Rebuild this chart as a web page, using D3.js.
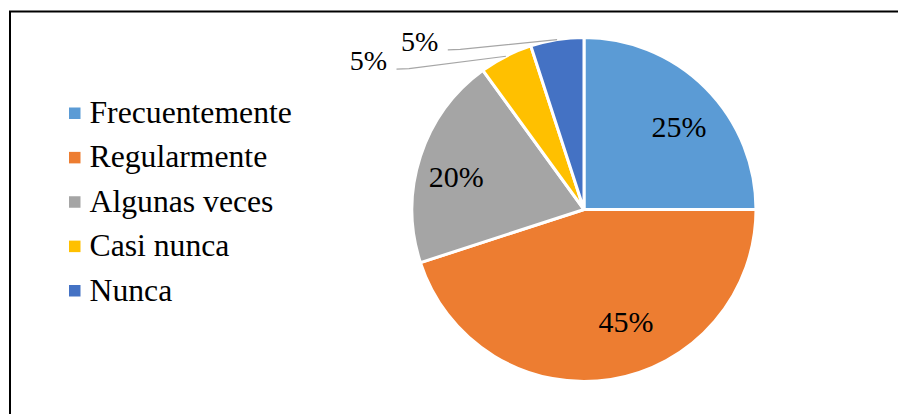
<!DOCTYPE html>
<html>
<head>
<meta charset="utf-8">
<script src="https://cdn.jsdelivr.net/npm/d3@7"></script>
<style>
  html, body { margin: 0; padding: 0; background: #fff; }
  svg { display: block; }
</style>
</head>
<body>
<svg id="chart" width="898" height="414"></svg>
<script>
// Survey answers and their shares (percent)
const categories = ["Frecuentemente", "Regularmente", "Algunas veces", "Casi nunca", "Nunca"];
const shares = [25, 45, 20, 5, 5];
const sliceColors = ["#5B9BD5", "#ED7D31", "#A5A5A5", "#FFC000", "#4472C4"];

const svg = d3.select("#chart");
const serif = '"Liberation Serif"';

// Chart frame (continues past the right and bottom edges)
svg.append("rect")
  .attr("x", 10).attr("y", 11.5)
  .attr("width", 1000).attr("height", 1000)
  .attr("fill", "none").attr("stroke", "#000").attr("stroke-width", 2);

// Pie
const cx = 584, cy = 209.5, R = 172;
const pie = d3.pie().value(d => d.value).sort(null);
const data = categories.map((c, i) => ({ name: c, value: shares[i], color: sliceColors[i] }));
const arcs = pie(data);
const arc = d3.arc().innerRadius(0).outerRadius(R);

const g = svg.append("g").attr("transform", `translate(${cx},${cy})`);
g.selectAll("path.slice")
  .data(arcs)
  .join("path")
  .attr("class", "slice")
  .attr("d", arc)
  .attr("fill", d => d.data.color)
  .attr("stroke", "#fff")
  .attr("stroke-width", 3)
  .attr("stroke-linejoin", "round");

const fmt = v => v + "%";

// Inside labels for the large slices (baseline offsets from the label-arc centroid)
const labelArc = d3.arc().innerRadius(R * 0.74).outerRadius(R * 0.74);
const insideNudge = { "Frecuentemente": [5, 17], "Regularmente": [22, -3.3], "Algunas veces": [-6.6, 16.5] };
arcs.filter(d => d.data.value >= 10).forEach(d => {
  const [x, y] = labelArc.centroid(d);
  const [nx, ny] = insideNudge[d.data.name];
  g.append("text")
    .attr("x", x + nx).attr("y", y + ny)
    .attr("text-anchor", "middle")
    .style("font-family", serif)
    .style("font-size", "30px")
    .attr("fill", "#000")
    .text(fmt(d.data.value));
});

// Outside labels with leader lines for the small slices
const edgeArc = d3.arc().innerRadius(R).outerRadius(R);
const outsideLabel = { "Casi nunca": [-197, -139.5], "Nunca": [-145.7, -158.8] };
arcs.filter(d => d.data.value < 10).forEach(d => {
  const [ex, ey] = edgeArc.centroid(d);
  const [lx, ly] = outsideLabel[d.data.name];
  const lineY = ly - 0.8;
  const pts = [[ex, ey], [lx + 22, lineY - 0.6], [lx + 9.5, lineY]];
  g.append("path")
    .attr("d", d3.line()(pts))
    .attr("fill", "none")
    .attr("stroke", "#A6A6A6")
    .attr("stroke-width", 1.2);
  g.append("text")
    .attr("x", lx).attr("y", ly)
    .attr("text-anchor", "end")
    .style("font-family", serif)
    .style("font-size", "28px")
    .attr("fill", "#000")
    .text(fmt(d.data.value));
});

// Legend
const legend = svg.append("g").attr("transform", "translate(69,0)");
const rowY = d3.scalePoint().domain(categories).range([123, 300.5]);
categories.forEach((c, i) => {
  const y = rowY(c);
  legend.append("rect")
    .attr("x", 0).attr("y", y - 15.5)
    .attr("width", 11.5).attr("height", 11.5)
    .attr("fill", sliceColors[i]);
  legend.append("text")
    .attr("x", 20.5).attr("y", y)
    .style("font-family", serif)
    .style("font-size", "31.7px")
    .attr("fill", "#000")
    .text(c);
});
</script>
</body>
</html>
